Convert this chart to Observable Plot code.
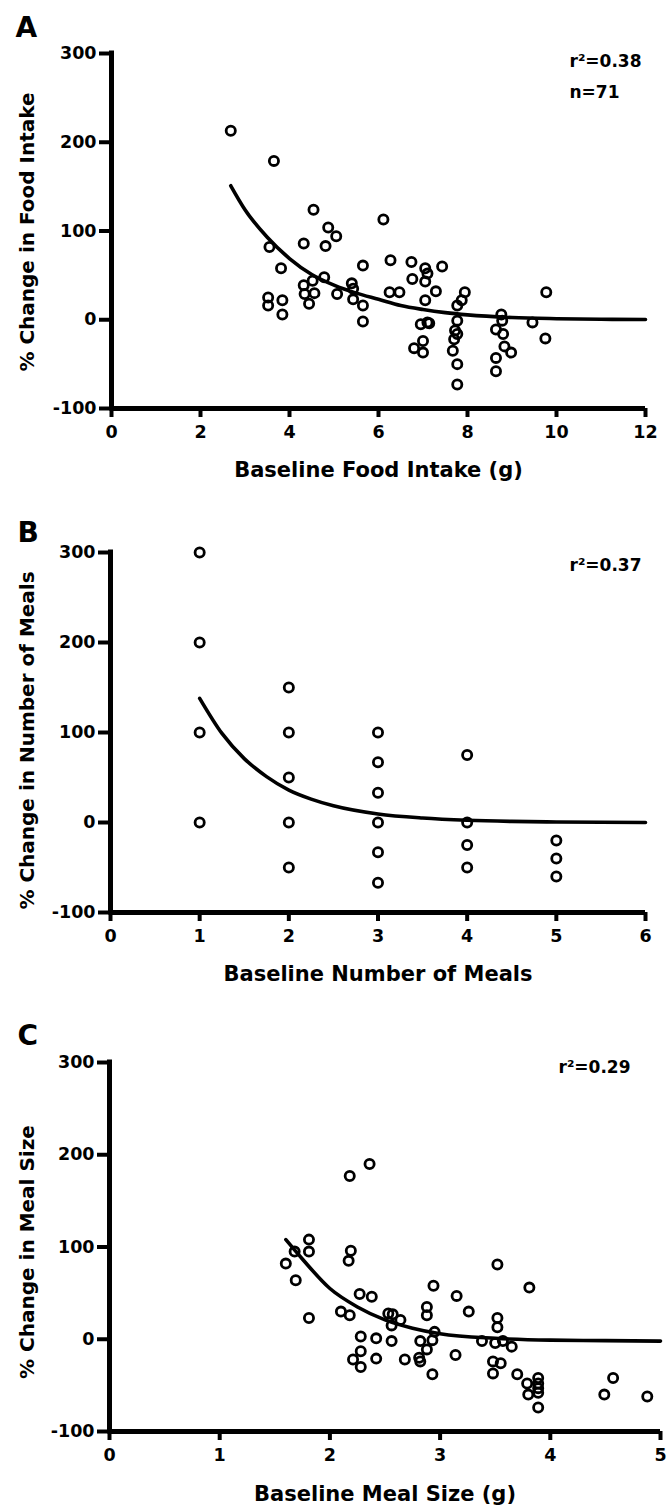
<!DOCTYPE html>
<html>
<head>
<meta charset="utf-8">
<script src="https://cdn.jsdelivr.net/npm/d3@7"></script>
<script src="https://cdn.jsdelivr.net/npm/@observablehq/plot@0.6"></script>
<style>
html, body { margin: 0; padding: 0; background: #fff; }
#chart { width: 672px; }
#chart svg { display: block; }
</style>
</head>
<body>
<div id="chart"></div>
<script>
// ---------- shared ----------
const yTicks = [-100, 0, 100, 200, 300];
const yDomain = [-100, 300];

// ---------- Panel A: food intake ----------
const aXTicks = [0, 2, 4, 6, 8, 10, 12];
const aBaseline = [2.68, 3.65, 4.54, 6.11, 4.87, 5.05, 4.32, 4.81, 3.55,
  3.81, 5.65, 6.27, 6.74, 7.05, 7.1, 7.43, 6.76, 7.05, 4.78, 4.52, 4.32, 5.4, 5.43,
  5.07, 4.34, 4.56, 4.44, 3.52, 3.52, 3.84, 3.84, 5.43, 5.65, 5.65, 6.25, 6.47,
  7.29, 7.05, 6.95, 7.1, 7.14, 7.0, 6.8, 7.0, 7.77, 7.87, 7.94, 7.77, 7.72, 7.77,
  7.7, 7.67, 7.77, 7.77, 8.76, 8.78, 8.64, 8.8, 8.83, 8.98, 8.64, 8.64, 9.46, 9.77, 9.75];
const aChange = [213, 179, 124, 113, 104, 94, 86, 83, 82,
  58, 61, 67, 65, 58, 52, 60, 46, 43, 48, 44, 39, 41, 35,
  29, 29, 30, 18, 25, 16, 22, 6, 23, 16, -2, 31, 31,
  32, 22, -5, -3, -4, -24, -32, -37, 16, 22, 31, -1, -12, -16,
  -22, -35, -50, -73, 6, -1, -11, -16, -30, -37, -43, -58, -3, 31, -21];
const aFitX = [2.68, 3, 3.5, 4, 4.5, 5, 5.5, 6, 6.5, 7, 7.5, 8, 9, 10, 11, 12];
const aFitY = [151, 124, 93, 69, 51, 39, 30, 23, 16, 11.5, 8, 5.5, 2.5, 1.2, 0.5, 0.2];

// ---------- Panel B: number of meals ----------
const bXTicks = [0, 1, 2, 3, 4, 5, 6];
const bBaseline = [1, 1, 1, 1, 2, 2, 2, 2, 2, 3, 3, 3, 3, 3, 3, 4, 4, 4, 4, 5, 5, 5];
const bChange = [300, 200, 100, 0, 150, 100, 50, 0, -50, 100, 67, 33, 0, -33, -67, 75, 0, -25, -50, -20, -40, -60];
const bFitX = [1, 1.25, 1.5, 1.75, 2, 2.25, 2.5, 3, 3.5, 4, 4.5, 5, 6];
const bFitY = [138, 99, 71, 51, 36, 26, 18.6, 9.5, 5, 2.5, 1.2, 0.6, 0];

// ---------- Panel C: meal size ----------
const cXTicks = [0, 1, 2, 3, 4, 5];
const cBaseline = [2.18, 2.36, 1.6, 1.68, 1.69, 1.81, 1.81, 1.81, 2.19, 2.17, 2.1, 2.18,
  2.27, 2.38, 2.28, 2.28, 2.21, 2.28, 2.42, 2.42, 2.53, 2.57, 2.64, 2.56, 2.56, 2.68,
  2.94, 2.88, 2.88, 2.82, 2.88, 2.81, 2.82, 2.93, 2.95, 2.93, 3.15, 3.26, 3.14, 3.38,
  3.52, 3.52, 3.52, 3.5, 3.57, 3.65, 3.48, 3.55, 3.48, 3.7, 3.81, 3.79, 3.8,
  3.89, 3.89, 3.89, 3.89, 3.89, 4.49, 4.57, 4.88];
const cChange = [177, 190, 82, 95, 64, 95, 108, 23, 96, 85, 30, 26,
  49, 46, 3, -13, -22, -30, 1, -21, 28, 27, 21, 15, -2, -22,
  58, 35, 26, -2, -11, -20, -24, -1, 8, -38, 47, 30, -17, -2,
  81, 23, 13, -4, -2, -8, -24, -26, -37, -38, 56, -48, -60,
  -42, -48, -53, -58, -74, -60, -42, -62];
const cFitX = [1.6, 1.75, 2, 2.25, 2.5, 2.75, 3, 3.5, 4, 4.5, 5];
const cFitY = [108, 87, 55, 35, 21, 12, 6, 1, -1, -1.5, -2];

const FONT = "'DejaVu Sans', 'Liberation Sans', sans-serif";

function panel(p) {
  const dots = p.x.map((x, i) => ({x, y: p.y[i]}));
  const fit = p.fx.map((x, i) => ({x, y: p.fy[i]}));
  const marks = [
    Plot.axisY({ticks: yTicks, tickSize: 12, tickPadding: 3, strokeWidth: 4, label: null,
      fontSize: 17.5, tickFormat: (d) => `${d}`}),
    Plot.axisX({ticks: p.xTicks, tickSize: 9, tickPadding: 8, strokeWidth: 4, label: null,
      fontSize: 17.5, tickFormat: (d) => `${d}`}),
    Plot.ruleX([0], {strokeWidth: 5, strokeLinecap: "square"}),
    Plot.ruleY([-100], {strokeWidth: 5}),
    Plot.line(fit, {x: "x", y: "y", curve: "monotone-x", stroke: "#000", strokeWidth: 3.6}),
    Plot.dot(dots, {x: "x", y: "y", r: 4.6, stroke: "#000", strokeWidth: 2.8, fill: "none"}),
    Plot.text([p.letter], {frameAnchor: "top-left", textAnchor: "start", lineAnchor: "top",
      dx: p.letterDx, dy: p.letterDy, fontSize: 28}),
    Plot.text([p.xLabel], {frameAnchor: "bottom", textAnchor: "middle", lineAnchor: "top",
      dy: p.xLabelDy, fontSize: 21}),
    Plot.text([p.yLabel], {frameAnchor: "left", textAnchor: "middle", lineAnchor: "middle",
      rotate: -90, dx: p.yLabelDx, dy: p.yLabelDy, fontSize: 20})
  ];
  p.notes.forEach((n, i) => {
    marks.push(Plot.text([n], {frameAnchor: "top-right", textAnchor: "start", lineAnchor: "top",
      dx: p.noteDx, dy: p.noteDy[i], fontSize: 17}));
  });
  return Plot.plot({
    width: 672,
    height: p.height,
    marginTop: p.mt, marginBottom: p.mb, marginLeft: p.ml, marginRight: p.mr,
    style: {fontFamily: FONT, fontWeight: "bold", fontSize: "17.5px", color: "#000", background: "#fff", overflow: "visible"},
    x: {domain: p.xDomain},
    y: {domain: yDomain},
    marks
  });
}

const chart = document.getElementById("chart");
chart.append(panel({
  height: 500, mt: 53, mb: 92, ml: 111, mr: 27,
  xDomain: [0, 12], xTicks: aXTicks,
  x: aBaseline, y: aChange, fx: aFitX, fy: aFitY,
  letter: "A", letterDx: -96, letterDy: -36,
  xLabel: "Baseline Food Intake (g)", xLabelDy: 54,
  yLabel: "% Change in Food Intake", yLabelDx: -83.5, yLabelDy: 1,
  notes: ["r²=0.38", "n=71"], noteDx: -76, noteDy: [1, 32]
}));
chart.append(panel({
  height: 500, mt: 52, mb: 88, ml: 110, mr: 27,
  xDomain: [0, 6], xTicks: bXTicks,
  x: bBaseline, y: bChange, fx: bFitX, fy: bFitY,
  letter: "B", letterDx: -93, letterDy: -30,
  xLabel: "Baseline Number of Meals", xLabelDy: 54,
  yLabel: "% Change in Number of Meals", yLabelDx: -82.5, yLabelDy: 8,
  notes: ["r²=0.37"], noteDx: -76, noteDy: [6]
}));
chart.append(panel({
  height: 510, mt: 62, mb: 79, ml: 109, mr: 12,
  xDomain: [0, 5], xTicks: cXTicks,
  x: cBaseline, y: cChange, fx: cFitX, fy: cFitY,
  letter: "C", letterDx: -92, letterDy: -37,
  xLabel: "Baseline Meal Size (g)", xLabelDy: 55,
  yLabel: "% Change in Meal Size", yLabelDx: -81.5, yLabelDy: 5,
  notes: ["r²=0.29"], noteDx: -102, noteDy: [-2]
}));
</script>
</body>
</html>
